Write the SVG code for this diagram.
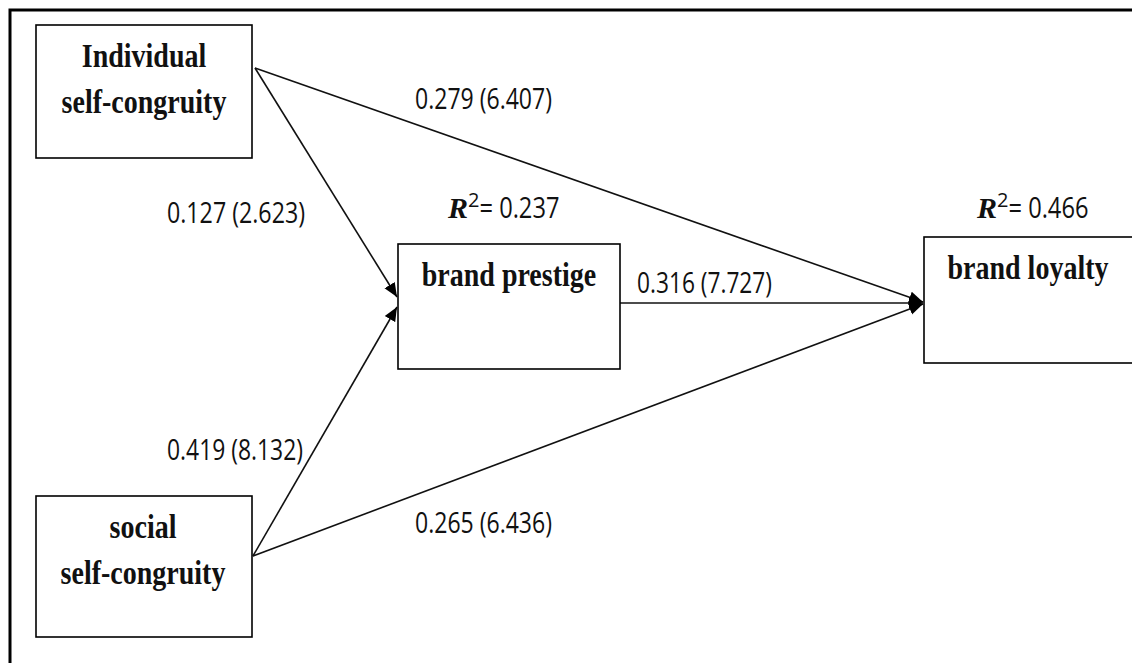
<svg xmlns="http://www.w3.org/2000/svg" width="1132" height="663" viewBox="0 0 1132 663">
<style>
.box{fill:#fff;stroke:#000;stroke-width:1.6}
.nl{font-family:"Liberation Serif",serif;font-weight:bold;font-size:28px;fill:#111;text-anchor:middle}
.num{font-family:"Open Sans","Liberation Sans",sans-serif;font-size:29px;fill:#111}
.con{stroke:#111;stroke-width:1.6;fill:none}
</style>
<defs>
<marker id="ah" markerUnits="userSpaceOnUse" markerWidth="16" markerHeight="14" refX="14" refY="7" orient="auto">
<path d="M0,1 L14,7 L0,13 Z" fill="#000"/>
</marker>
</defs>
<rect width="1132" height="663" fill="#fff"/>
<path d="M10,670 V10 H1140" fill="none" stroke="#000" stroke-width="3"/>
<g id="connectors">
<line class="con" x1="255" y1="68" x2="397" y2="297" marker-end="url(#ah)"/>
<line class="con" x1="253" y1="556" x2="397" y2="307" marker-end="url(#ah)"/>
<line class="con" x1="255" y1="68" x2="923" y2="302" marker-end="url(#ah)"/>
<line class="con" x1="620" y1="303" x2="923" y2="303" marker-end="url(#ah)"/>
<line class="con" x1="253" y1="556" x2="923" y2="304" marker-end="url(#ah)"/>
</g>
<g id="individual">
<rect class="box" x="36" y="25" width="216" height="133"/>
<text class="nl" x="144" y="67" transform="translate(0,-11) scale(1,1.17)">Individual</text>
<text class="nl" x="144" y="113" transform="translate(0,-19) scale(1,1.17)">self-congruity</text>
</g>
<g id="social">
<rect class="box" x="36" y="496" width="216" height="141"/>
<text class="nl" x="143" y="538" transform="translate(0,-91) scale(1,1.17)">social</text>
<text class="nl" x="143" y="584" transform="translate(0,-99) scale(1,1.17)">self-congruity</text>
</g>
<g id="prestige">
<rect class="box" x="398" y="244" width="222" height="125"/>
<text class="nl" x="509" y="286" transform="translate(0,-49) scale(1,1.17)">brand prestige</text>
<text x="448" y="218" class="num"><tspan font-family="Liberation Serif" font-weight="bold" font-style="italic" font-size="30">R</tspan><tspan font-size="20" dy="-11">2</tspan><tspan dy="11" textLength="80" lengthAdjust="spacingAndGlyphs">= 0.237</tspan></text>
</g>
<g id="loyalty">
<rect class="box" x="924" y="237" width="220" height="126"/>
<text class="nl" x="1028" y="279" transform="translate(0,-47.5) scale(1,1.17)">brand loyalty</text>
<text x="977" y="218" class="num"><tspan font-family="Liberation Serif" font-weight="bold" font-style="italic" font-size="30">R</tspan><tspan font-size="20" dy="-11">2</tspan><tspan dy="11" textLength="80" lengthAdjust="spacingAndGlyphs">= 0.466</tspan></text>
</g>
<g id="labels">
<text class="num" x="167" y="223" textLength="138" lengthAdjust="spacingAndGlyphs">0.127 (2.623)</text>
<text class="num" x="415" y="109" textLength="137" lengthAdjust="spacingAndGlyphs">0.279 (6.407)</text>
<text class="num" x="167" y="460" textLength="136" lengthAdjust="spacingAndGlyphs">0.419 (8.132)</text>
<text class="num" x="637" y="293" textLength="135" lengthAdjust="spacingAndGlyphs">0.316 (7.727)</text>
<text class="num" x="415" y="533" textLength="137" lengthAdjust="spacingAndGlyphs">0.265 (6.436)</text>
</g>
</svg>
